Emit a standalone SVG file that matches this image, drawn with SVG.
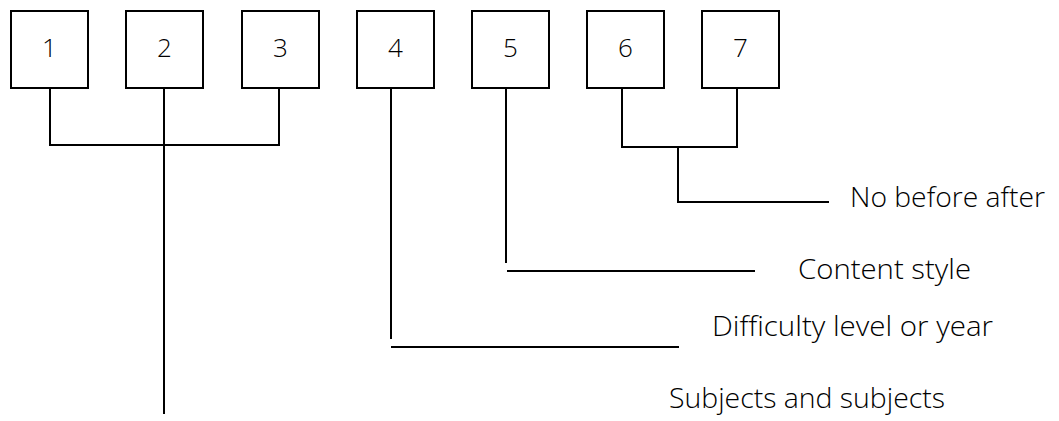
<svg xmlns="http://www.w3.org/2000/svg" width="1059" height="421" viewBox="0 0 1059 421">
  <style>
    .box { fill: #ffffff; stroke: #000000; stroke-width: 2; }
    .num { font-family: "Open Sans", "Liberation Sans", sans-serif; font-size: 26px; font-weight: 300; fill: #000000; text-anchor: middle; }
    .lbl { font-family: "Open Sans", "Liberation Sans", sans-serif; font-size: 28px; font-weight: 300; fill: #000000; }
    .conn { fill: none; stroke: #000000; stroke-width: 2; }
  </style>
  <rect width="1059" height="421" fill="#ffffff"/>
  <g id="node-1"><rect class="box" x="11" y="11" width="77" height="77"/><text class="num" x="49.5" y="57">1</text></g>
  <g id="node-2"><rect class="box" x="126" y="11" width="77" height="77"/><text class="num" x="164.5" y="57">2</text></g>
  <g id="node-3"><rect class="box" x="242" y="11" width="77" height="77"/><text class="num" x="280.5" y="57">3</text></g>
  <g id="node-4"><rect class="box" x="357" y="11" width="77" height="77"/><text class="num" x="395.5" y="57">4</text></g>
  <g id="node-5"><rect class="box" x="472" y="11" width="77" height="77"/><text class="num" x="510.5" y="57">5</text></g>
  <g id="node-6"><rect class="box" x="587" y="11" width="77" height="77"/><text class="num" x="625.5" y="57">6</text></g>
  <g id="node-7"><rect class="box" x="702" y="11" width="77" height="77"/><text class="num" x="740.5" y="57">7</text></g>
  <g id="connectors">
    <path class="conn" d="M50,88 V145 H279 V88"/>
    <path class="conn" d="M164,88 V414"/>
    <path class="conn" d="M391,88 V339"/>
    <path class="conn" d="M391,347 H679"/>
    <path class="conn" d="M506,88 V263"/>
    <path class="conn" d="M507,271 H755"/>
    <path class="conn" d="M622,88 V147 H737 V88"/>
    <path class="conn" d="M678,147 V202 H829"/>
  </g>
  <g id="labels">
    <text class="lbl" x="850" y="207" textLength="195" lengthAdjust="spacingAndGlyphs">No before after</text>
    <text class="lbl" x="798" y="279" textLength="173" lengthAdjust="spacingAndGlyphs">Content style</text>
    <text class="lbl" x="712" y="336" textLength="281" lengthAdjust="spacingAndGlyphs">Difficulty level or year</text>
    <text class="lbl" x="669" y="408" textLength="276" lengthAdjust="spacingAndGlyphs">Subjects and subjects</text>
  </g>
</svg>
